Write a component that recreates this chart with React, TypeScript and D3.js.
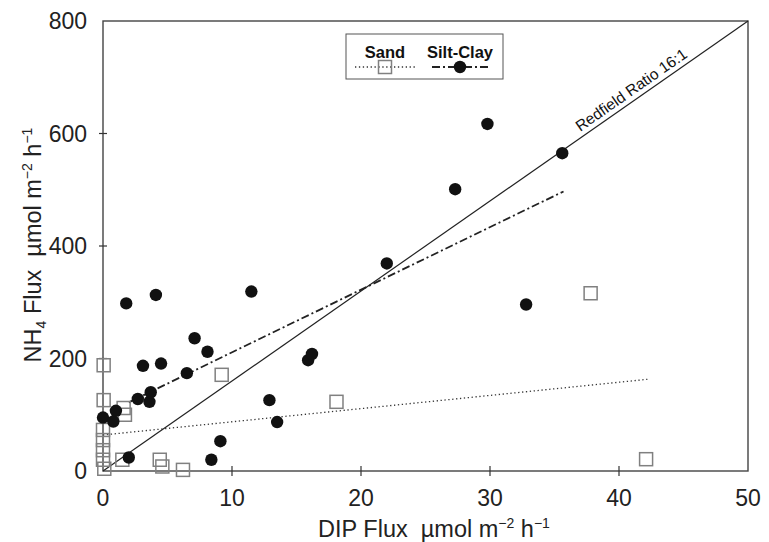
import React from "react";
import * as d3 from "d3";

// Silt-Clay sites (filled circles)
const siltDip = [0.0, 0.8, 1.0, 2.0, 1.8, 2.7, 3.6, 3.7, 3.1, 4.5, 4.1, 6.5, 7.1, 8.1, 8.4, 9.1, 11.5, 12.9, 13.5, 15.9, 16.2, 22.0, 27.3, 29.8, 32.8, 35.6];
const siltNh4 = [95, 88, 107, 24, 298, 128, 123, 140, 187, 191, 313, 174, 236, 212, 20, 53, 319, 126, 87, 197, 208, 369, 501, 617, 296, 565];

// Sand sites (open squares)
const sandDip = [0.05, 0.05, 0.0, 0.0, 0.0, 0.0, 0.1, 1.6, 1.7, 1.5, 4.4, 4.6, 6.2, 9.2, 18.1, 37.8, 42.1];
const sandNh4 = [188, 126, 73, 55, 37, 20, 4, 112, 100, 20, 20, 8, 2, 171, 123, 316, 21];

// regression lines and Redfield 16:1 reference
const sandFitDip = [0, 42.2];
const sandFitNh4 = [64, 163];
const siltFitDip = [2, 35.7];
const siltFitNh4 = [122, 497];
const redfieldDip = [0, 50];
const redfieldNh4 = [0, 800];

const xTicks = [0, 10, 20, 30, 40, 50];
const yTicks = [0, 200, 400, 600, 800];

const W = 769;
const H = 542;
const font = "Arial, 'Liberation Sans', Helvetica, sans-serif";

export default function App() {
  const x = d3.scaleLinear().domain([0, 50]).range([103, 748]);
  const y = d3.scaleLinear().domain([0, 800]).range([471, 21]);

  const line = d3
    .line<[number, number]>()
    .x((d) => x(d[0]))
    .y((d) => y(d[1]));

  const pairs = (a: number[], b: number[]) => a.map((v, i) => [v, b[i]] as [number, number]);

  // angle of the redfield line on screen
  const ang =
    (Math.atan2(y(redfieldNh4[1]) - y(redfieldNh4[0]), x(redfieldDip[1]) - x(redfieldDip[0])) * 180) /
    Math.PI;
  const labX = 41.4;
  const labY = (labX * redfieldNh4[1]) / redfieldDip[1];

  const sq = 13;
  const sup = 14;

  return (
    <svg
      width={W}
      height={H}
      style={{ position: "absolute", left: 0, top: 0, background: "#fff", fontFamily: font }}
    >
      {/* frame */}
      <rect x={x(0)} y={y(800)} width={x(50) - x(0)} height={y(0) - y(800)} fill="none" stroke="#444" strokeWidth={1.4} />

      {/* ticks */}
      {xTicks.slice(1, -1).map((t) => (
        <line key={"xt" + t} x1={x(t)} x2={x(t)} y1={y(0) - 5} y2={y(0) + 5} stroke="#333" strokeWidth={1.2} />
      ))}
      {yTicks.slice(1, -1).map((t) => (
        <line key={"yt" + t} x1={x(0) - 4} x2={x(0) + 4} y1={y(t)} y2={y(t)} stroke="#333" strokeWidth={1.2} />
      ))}

      {/* tick labels */}
      {xTicks.map((t) => (
        <text key={"xl" + t} x={x(t)} y={y(0) + 35} textAnchor="middle" fontSize={23} fill="#222">
          {t}
        </text>
      ))}
      {yTicks.map((t) => (
        <text key={"yl" + t} x={x(0) - 16} y={y(t) + 8} textAnchor="end" fontSize={23} fill="#222">
          {t}
        </text>
      ))}

      {/* axis titles */}
      <text x={434} y={537} textAnchor="middle" fontSize={23.5} fill="#222">
        {"DIP Flux\u00a0\u00a0µmol m"}
        <tspan fontSize={sup} dy={-9}>−2</tspan>
        <tspan dy={9}> h</tspan>
        <tspan fontSize={sup} dy={-9}>−1</tspan>
      </text>
      <text transform="translate(41,245) rotate(-90)" textAnchor="middle" fontSize={23.5} fill="#222">
        NH
        <tspan fontSize={sup} dy={5}>4</tspan>
        <tspan dy={-5}>{" Flux\u00a0\u00a0µmol m"}</tspan>
        <tspan fontSize={sup} dy={-9}>−2</tspan>
        <tspan dy={9}> h</tspan>
        <tspan fontSize={sup} dy={-9}>−1</tspan>
      </text>

      {/* reference + fits */}
      <path d={line(pairs(redfieldDip, redfieldNh4)) ?? ""} fill="none" stroke="#222" strokeWidth={1.2} />
      <path
        d={line(pairs(sandFitDip, sandFitNh4)) ?? ""}
        fill="none"
        stroke="#333"
        strokeWidth={1.3}
        strokeDasharray="1.3,2.6"
      />
      <path
        d={line(pairs(siltFitDip, siltFitNh4)) ?? ""}
        fill="none"
        stroke="#222"
        strokeWidth={1.8}
        strokeDasharray="8,3,2,3"
      />

      <text
        transform={`translate(${x(labX)},${y(labY)}) rotate(${ang})`}
        dy={-5}
        textAnchor="middle"
        fontSize={15.5}
        fill="#111"
      >
        Redfield Ratio 16:1
      </text>

      {/* sand squares */}
      {sandDip.map((d, i) => (
        <rect
          key={"s" + i}
          x={x(d) - sq / 2}
          y={y(sandNh4[i]) - sq / 2}
          width={sq}
          height={sq}
          fill="none"
          stroke="#808080"
          strokeWidth={1.5}
        />
      ))}

      {/* silt-clay circles */}
      {siltDip.map((d, i) => (
        <circle key={"c" + i} cx={x(d)} cy={y(siltNh4[i])} r={6.2} fill="#111" />
      ))}

      {/* legend */}
      <rect x={346} y={34} width={157} height={45} fill="#fff" stroke="#555" strokeWidth={1} />
      <text x={385} y={58} textAnchor="middle" fontSize={16.5} fontWeight="bold" fill="#111">
        Sand
      </text>
      <text x={460} y={58} textAnchor="middle" fontSize={16.5} fontWeight="bold" fill="#111">
        Silt-Clay
      </text>
      <line x1={355} x2={416} y1={67} y2={67} stroke="#333" strokeWidth={1.3} strokeDasharray="1.3,2.6" />
      <rect x={385 - sq / 2} y={67 - sq / 2} width={sq} height={sq} fill="none" stroke="#808080" strokeWidth={1.5} />
      <line x1={432} x2={489} y1={67} y2={67} stroke="#222" strokeWidth={1.8} strokeDasharray="8,3,2,3" />
      <circle cx={460} cy={67} r={6.2} fill="#111" />
    </svg>
  );
}
